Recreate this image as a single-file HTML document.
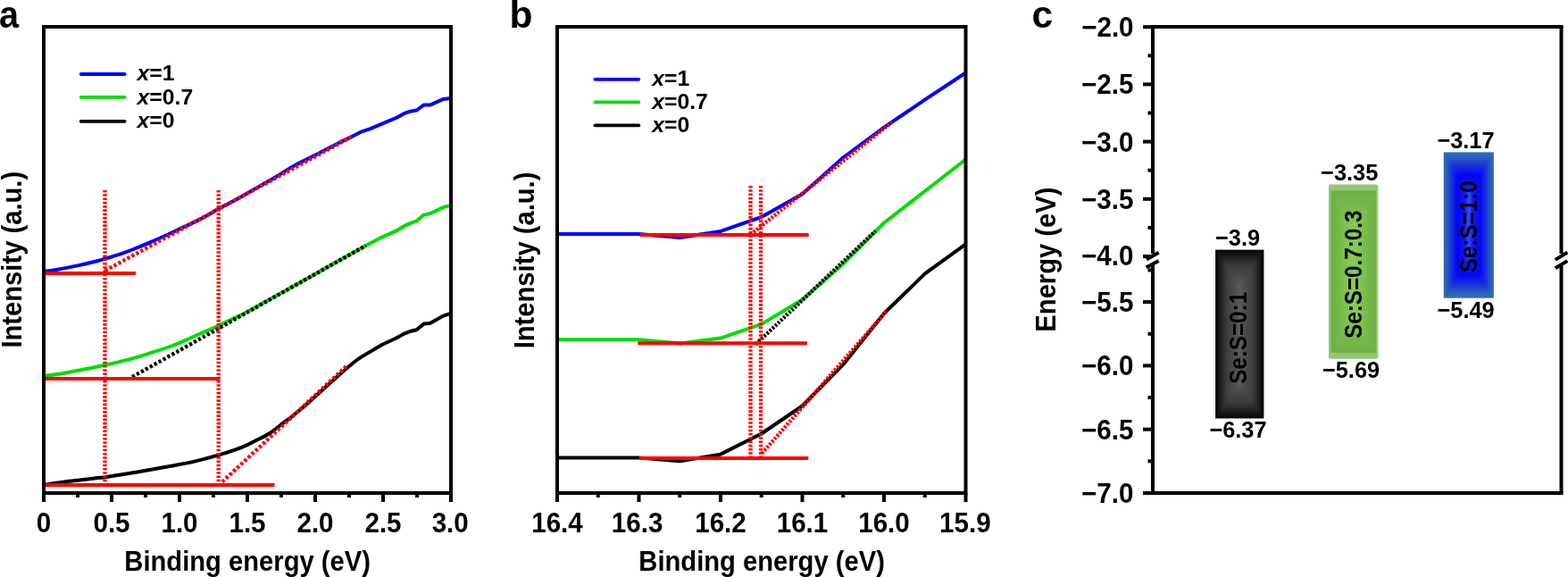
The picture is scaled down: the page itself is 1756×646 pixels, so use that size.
<!DOCTYPE html>
<html><head><meta charset="utf-8"><title>Figure</title>
<style>html,body{margin:0;padding:0;background:#fff;}body{width:1756px;height:646px;overflow:hidden;}svg{display:block;}text{dominant-baseline:alphabetic;}</style>
</head><body>
<svg width="1756" height="646" viewBox="0 0 1756 646" font-family='"Liberation Sans", Arial, Helvetica, sans-serif'>
<rect width="1756" height="646" fill="#fff"/>
<path d="M49.20,304.00 C51.98,303.58 59.63,302.60 65.90,301.50 C72.17,300.40 79.83,298.90 86.80,297.40 C93.77,295.90 102.58,293.78 107.70,292.50 C112.82,291.22 112.85,291.10 117.50,289.70 C122.15,288.30 130.27,285.88 135.60,284.10 C140.93,282.32 144.60,280.90 149.50,279.00 C154.40,277.10 158.48,275.50 165.00,272.70 C171.52,269.90 178.47,266.88 188.60,262.20 C198.73,257.52 216.52,249.30 225.80,244.60 C235.08,239.90 238.60,237.13 244.30,234.00 C250.00,230.87 253.52,229.33 260.00,225.80 C266.48,222.27 275.47,217.17 283.20,212.80 C290.93,208.43 298.67,204.13 306.40,199.60 C314.13,195.07 321.85,189.90 329.60,185.60 C337.35,181.30 345.15,177.78 352.90,173.80 C360.65,169.82 369.15,165.22 376.10,161.70 C383.05,158.18 389.77,155.10 394.60,152.70 L405.10,147.30 L414.10,144.30 L443.30,132.20 L452.40,127.20 L459.40,124.70 L466.50,123.50 L474.50,117.60 L481.50,117.60 L496.60,110.90 L504.70,110.10" fill="none" stroke="#0000ff" stroke-width="4" stroke-linejoin="round" stroke-linecap="butt"/>
<path d="M49.30,421.00 C51.17,420.77 56.05,420.27 60.50,419.60 C64.95,418.93 70.85,417.93 76.00,417.00 C81.15,416.07 86.25,415.00 91.40,414.00 C96.55,413.00 102.57,411.87 106.90,411.00 C111.23,410.13 113.53,409.65 117.40,408.80 C121.27,407.95 125.40,407.02 130.10,405.90 C134.80,404.78 139.78,403.70 145.60,402.10 C151.42,400.50 157.07,398.82 165.00,396.30 C172.93,393.78 184.23,390.38 193.20,387.00 C202.17,383.62 210.28,379.68 218.80,376.00 C227.32,372.32 237.43,368.03 244.30,364.90 C251.17,361.77 254.92,359.65 260.00,357.20 C265.08,354.75 268.22,353.63 274.80,350.20 C281.38,346.77 291.25,341.17 299.50,336.60 C307.75,332.03 316.03,327.42 324.30,322.80 C332.57,318.18 340.85,313.55 349.10,308.90 C357.35,304.25 363.63,300.58 373.80,294.90 C383.97,289.22 401.03,279.73 410.10,274.80 L428.20,265.30 L443.30,258.70 L452.40,253.20 L460.40,249.70 L466.50,247.70 L474.50,240.60 L481.50,239.30 L497.60,231.60 L504.70,230.10" fill="none" stroke="#00dd00" stroke-width="4" stroke-linejoin="round" stroke-linecap="butt"/>
<path d="M49.50,543.40 C50.17,543.20 49.98,542.82 53.50,542.20 C57.02,541.58 64.92,540.43 70.60,539.70 C76.28,538.97 81.93,538.47 87.60,537.80 C93.27,537.13 99.63,536.30 104.60,535.70 C109.57,535.10 113.13,534.78 117.40,534.20 C121.67,533.62 125.23,532.98 130.20,532.20 C135.17,531.42 141.40,530.45 147.20,529.50 C153.00,528.55 157.33,527.83 165.00,526.50 C172.67,525.17 184.23,523.18 193.20,521.50 C202.17,519.82 210.28,518.38 218.80,516.40 C227.32,514.42 236.90,511.72 244.30,509.60 C251.70,507.48 257.87,505.57 263.20,503.70 C268.53,501.83 271.92,500.38 276.30,498.40 C280.68,496.42 285.12,494.08 289.50,491.80 C293.88,489.52 298.22,487.55 302.60,484.70 C306.98,481.85 311.42,478.03 315.80,474.70 C320.18,471.37 324.52,468.20 328.90,464.70 C333.28,461.20 337.70,457.52 342.10,453.70 C346.50,449.88 350.92,445.75 355.30,441.80 C359.68,437.85 364.02,433.93 368.40,430.00 C372.78,426.07 377.22,422.03 381.60,418.20 C385.98,414.37 390.78,410.13 394.70,407.00 C398.62,403.87 399.52,402.93 405.10,399.40 L428.20,385.80 L443.30,378.70 L452.40,373.70 L460.40,370.70 L466.50,369.20 L474.50,362.60 L481.50,361.90 L496.60,353.60 L504.70,350.80" fill="none" stroke="#000000" stroke-width="4" stroke-linejoin="round" stroke-linecap="butt"/>
<line x1="117.6" y1="303" x2="394.6" y2="152.7" stroke="#ff0000" stroke-width="4.3" stroke-dasharray="3.3 2.35" stroke-linecap="butt"/>
<line x1="248.9" y1="539.5" x2="389.6" y2="408.4" stroke="#ff0000" stroke-width="4.3" stroke-dasharray="3.3 2.35" stroke-linecap="butt"/>
<line x1="148.1" y1="422" x2="409.7" y2="275" stroke="#000000" stroke-width="4.3" stroke-dasharray="3.3 2.35" stroke-linecap="butt"/>
<line x1="49" y1="306" x2="152" y2="306" stroke="#ff0000" stroke-width="4" stroke-linecap="butt"/>
<line x1="49" y1="424" x2="246" y2="424" stroke="#ff0000" stroke-width="4" stroke-linecap="butt"/>
<line x1="49" y1="543" x2="307.4" y2="543" stroke="#ff0000" stroke-width="4" stroke-linecap="butt"/>
<line x1="117.5" y1="213" x2="117.5" y2="541" stroke="#ff0000" stroke-width="4.3" stroke-dasharray="2.6 1.66" stroke-linecap="butt"/>
<line x1="244.7" y1="213" x2="244.7" y2="541" stroke="#ff0000" stroke-width="4.3" stroke-dasharray="2.6 1.66" stroke-linecap="butt"/>
<rect x="49" y="30" width="456" height="522" fill="none" stroke="#000" stroke-width="4"/>
<line x1="49" y1="552" x2="49" y2="562" stroke="#000000" stroke-width="4" stroke-linecap="butt"/>
<line x1="125" y1="552" x2="125" y2="562" stroke="#000000" stroke-width="4" stroke-linecap="butt"/>
<line x1="201" y1="552" x2="201" y2="562" stroke="#000000" stroke-width="4" stroke-linecap="butt"/>
<line x1="277" y1="552" x2="277" y2="562" stroke="#000000" stroke-width="4" stroke-linecap="butt"/>
<line x1="353" y1="552" x2="353" y2="562" stroke="#000000" stroke-width="4" stroke-linecap="butt"/>
<line x1="429" y1="552" x2="429" y2="562" stroke="#000000" stroke-width="4" stroke-linecap="butt"/>
<line x1="505" y1="552" x2="505" y2="562" stroke="#000000" stroke-width="4" stroke-linecap="butt"/>
<line x1="87" y1="552" x2="87" y2="557" stroke="#000000" stroke-width="4" stroke-linecap="butt"/>
<line x1="163" y1="552" x2="163" y2="557" stroke="#000000" stroke-width="4" stroke-linecap="butt"/>
<line x1="239" y1="552" x2="239" y2="557" stroke="#000000" stroke-width="4" stroke-linecap="butt"/>
<line x1="315" y1="552" x2="315" y2="557" stroke="#000000" stroke-width="4" stroke-linecap="butt"/>
<line x1="391" y1="552" x2="391" y2="557" stroke="#000000" stroke-width="4" stroke-linecap="butt"/>
<line x1="467" y1="552" x2="467" y2="557" stroke="#000000" stroke-width="4" stroke-linecap="butt"/>
<line x1="90.7" y1="83" x2="139.7" y2="83" stroke="#0000ff" stroke-width="3.8" stroke-linecap="round"/>
<line x1="90.7" y1="108.9" x2="139.7" y2="108.9" stroke="#00dd00" stroke-width="3.8" stroke-linecap="round"/>
<line x1="90.7" y1="135.8" x2="139.7" y2="135.8" stroke="#000000" stroke-width="3.8" stroke-linecap="round"/>
<polyline points="624.0,261.9 669.8,261.9 715.5,261.9 761.2,266.0 807.0,258.9 852.8,243.0 898.5,217.3 944.2,176.5 990.0,142.7 1035.8,111.7 1081.5,81.5" fill="none" stroke="#0000ff" stroke-width="4" stroke-linejoin="round" stroke-linecap="butt"/>
<polyline points="624.0,380.3 669.8,380.3 715.5,380.3 761.2,384.6 807.0,378.6 852.8,362.9 898.5,335.5 944.2,295.5 990.0,249.5 1035.8,214.0 1081.5,178.5" fill="none" stroke="#00dd00" stroke-width="4" stroke-linejoin="round" stroke-linecap="butt"/>
<polyline points="624.0,512.5 669.8,512.5 715.5,512.5 761.2,516.3 807.0,508.6 852.8,485.5 898.5,454.5 944.2,408.2 990.0,351.0 1035.8,306.4 1081.5,273.3" fill="none" stroke="#000000" stroke-width="4" stroke-linejoin="round" stroke-linecap="butt"/>
<line x1="843.8" y1="260" x2="998.8" y2="136.9" stroke="#ff0000" stroke-width="4.3" stroke-dasharray="2.6 1.66" stroke-linecap="butt"/>
<line x1="853.2" y1="507.7" x2="994" y2="347" stroke="#ff0000" stroke-width="4.3" stroke-dasharray="2.6 1.66" stroke-linecap="butt"/>
<line x1="846.4" y1="385.4" x2="980.4" y2="258.7" stroke="#000000" stroke-width="4.3" stroke-dasharray="2.6 1.66" stroke-linecap="butt"/>
<line x1="716.5" y1="263.1" x2="905.7" y2="263.1" stroke="#ff0000" stroke-width="4" stroke-linecap="butt"/>
<line x1="714.3" y1="384.2" x2="904" y2="384.2" stroke="#ff0000" stroke-width="4" stroke-linecap="butt"/>
<line x1="715.7" y1="512.9" x2="905.3" y2="512.9" stroke="#ff0000" stroke-width="4" stroke-linecap="butt"/>
<line x1="840.5" y1="208" x2="840.5" y2="511" stroke="#ff0000" stroke-width="4.3" stroke-dasharray="2.6 1.66" stroke-linecap="butt"/>
<line x1="852" y1="208" x2="852" y2="511" stroke="#ff0000" stroke-width="4.3" stroke-dasharray="2.6 1.66" stroke-linecap="butt"/>
<rect x="624" y="30" width="457.5" height="522" fill="none" stroke="#000" stroke-width="4"/>
<line x1="624.0" y1="552" x2="624.0" y2="562" stroke="#000000" stroke-width="4" stroke-linecap="butt"/>
<line x1="715.5" y1="552" x2="715.5" y2="562" stroke="#000000" stroke-width="4" stroke-linecap="butt"/>
<line x1="807.0" y1="552" x2="807.0" y2="562" stroke="#000000" stroke-width="4" stroke-linecap="butt"/>
<line x1="898.5" y1="552" x2="898.5" y2="562" stroke="#000000" stroke-width="4" stroke-linecap="butt"/>
<line x1="990.0" y1="552" x2="990.0" y2="562" stroke="#000000" stroke-width="4" stroke-linecap="butt"/>
<line x1="1081.5" y1="552" x2="1081.5" y2="562" stroke="#000000" stroke-width="4" stroke-linecap="butt"/>
<line x1="669.75" y1="552" x2="669.75" y2="557" stroke="#000000" stroke-width="4" stroke-linecap="butt"/>
<line x1="761.25" y1="552" x2="761.25" y2="557" stroke="#000000" stroke-width="4" stroke-linecap="butt"/>
<line x1="852.75" y1="552" x2="852.75" y2="557" stroke="#000000" stroke-width="4" stroke-linecap="butt"/>
<line x1="944.25" y1="552" x2="944.25" y2="557" stroke="#000000" stroke-width="4" stroke-linecap="butt"/>
<line x1="1035.75" y1="552" x2="1035.75" y2="557" stroke="#000000" stroke-width="4" stroke-linecap="butt"/>
<line x1="666.5" y1="88.8" x2="715.3" y2="88.8" stroke="#0000ff" stroke-width="3.8" stroke-linecap="round"/>
<line x1="666.5" y1="114.4" x2="715.3" y2="114.4" stroke="#00dd00" stroke-width="3.8" stroke-linecap="round"/>
<line x1="666.5" y1="140.4" x2="715.3" y2="140.4" stroke="#000000" stroke-width="3.8" stroke-linecap="round"/>
<line x1="1289" y1="30" x2="1750.5" y2="30" stroke="#000000" stroke-width="4" stroke-linecap="butt"/>
<line x1="1289" y1="552" x2="1750.5" y2="552" stroke="#000000" stroke-width="4" stroke-linecap="butt"/>
<line x1="1291" y1="30" x2="1291" y2="284" stroke="#000000" stroke-width="4" stroke-linecap="butt"/>
<line x1="1291" y1="297" x2="1291" y2="552" stroke="#000000" stroke-width="4" stroke-linecap="butt"/>
<line x1="1748.5" y1="30" x2="1748.5" y2="284" stroke="#000000" stroke-width="4" stroke-linecap="butt"/>
<line x1="1748.5" y1="298" x2="1748.5" y2="552" stroke="#000000" stroke-width="4" stroke-linecap="butt"/>
<line x1="1284" y1="290.6" x2="1297.6" y2="282.7" stroke="#000000" stroke-width="4" stroke-linecap="butt"/>
<line x1="1283.7" y1="299.5" x2="1297.6" y2="292" stroke="#000000" stroke-width="4" stroke-linecap="butt"/>
<line x1="1741.8" y1="290.9" x2="1755.4" y2="282.5" stroke="#000000" stroke-width="4" stroke-linecap="butt"/>
<line x1="1741.8" y1="300.2" x2="1755.4" y2="292.1" stroke="#000000" stroke-width="4" stroke-linecap="butt"/>
<line x1="1280" y1="30.2" x2="1291" y2="30.2" stroke="#000000" stroke-width="4" stroke-linecap="butt"/>
<line x1="1280" y1="94.4" x2="1291" y2="94.4" stroke="#000000" stroke-width="4" stroke-linecap="butt"/>
<line x1="1280" y1="158.6" x2="1291" y2="158.6" stroke="#000000" stroke-width="4" stroke-linecap="butt"/>
<line x1="1280" y1="222.8" x2="1291" y2="222.8" stroke="#000000" stroke-width="4" stroke-linecap="butt"/>
<line x1="1280" y1="287.0" x2="1291" y2="287.0" stroke="#000000" stroke-width="4" stroke-linecap="butt"/>
<line x1="1285.5" y1="62.3" x2="1291" y2="62.3" stroke="#000000" stroke-width="4" stroke-linecap="butt"/>
<line x1="1285.5" y1="126.50000000000001" x2="1291" y2="126.50000000000001" stroke="#000000" stroke-width="4" stroke-linecap="butt"/>
<line x1="1285.5" y1="190.7" x2="1291" y2="190.7" stroke="#000000" stroke-width="4" stroke-linecap="butt"/>
<line x1="1285.5" y1="254.9" x2="1291" y2="254.9" stroke="#000000" stroke-width="4" stroke-linecap="butt"/>
<line x1="1280" y1="338.1" x2="1291" y2="338.1" stroke="#000000" stroke-width="4" stroke-linecap="butt"/>
<line x1="1280" y1="409.4" x2="1291" y2="409.4" stroke="#000000" stroke-width="4" stroke-linecap="butt"/>
<line x1="1280" y1="480.7" x2="1291" y2="480.7" stroke="#000000" stroke-width="4" stroke-linecap="butt"/>
<line x1="1280" y1="552.0" x2="1291" y2="552.0" stroke="#000000" stroke-width="4" stroke-linecap="butt"/>
<line x1="1285.5" y1="302.45000000000005" x2="1291" y2="302.45000000000005" stroke="#000000" stroke-width="4" stroke-linecap="butt"/>
<line x1="1285.5" y1="373.75" x2="1291" y2="373.75" stroke="#000000" stroke-width="4" stroke-linecap="butt"/>
<line x1="1285.5" y1="445.05" x2="1291" y2="445.05" stroke="#000000" stroke-width="4" stroke-linecap="butt"/>
<line x1="1285.5" y1="516.35" x2="1291" y2="516.35" stroke="#000000" stroke-width="4" stroke-linecap="butt"/>
<rect x="1361.10" y="279.60" width="54.30" height="188.90" fill="rgb(10, 10, 10)" rx="0.0"/>
<rect x="1363.04" y="282.51" width="50.42" height="183.08" fill="rgb(18, 18, 18)" rx="2.2"/>
<rect x="1364.98" y="285.42" width="46.54" height="177.26" fill="rgb(27, 27, 27)" rx="2.9"/>
<rect x="1366.92" y="288.33" width="42.66" height="171.45" fill="rgb(37, 37, 37)" rx="3.5"/>
<rect x="1368.86" y="291.24" width="38.79" height="165.63" fill="rgb(46, 46, 46)" rx="4.2"/>
<rect x="1370.80" y="294.14" width="34.91" height="159.81" fill="rgb(53, 53, 53)" rx="4.9"/>
<rect x="1372.74" y="297.05" width="31.03" height="153.99" fill="rgb(60, 60, 60)" rx="5.0"/>
<rect x="1374.67" y="299.96" width="27.15" height="148.17" fill="rgb(64, 64, 64)" rx="5.0"/>
<rect x="1376.61" y="302.87" width="23.27" height="142.36" fill="rgb(68, 68, 68)" rx="5.0"/>
<rect x="1378.55" y="305.78" width="19.39" height="136.54" fill="rgb(72, 72, 72)" rx="5.0"/>
<rect x="1380.49" y="308.69" width="15.51" height="130.72" fill="rgb(76, 76, 76)" rx="5.0"/>
<rect x="1382.43" y="311.60" width="11.64" height="124.90" fill="rgb(80, 80, 80)" rx="5.0"/>
<rect x="1384.37" y="314.51" width="7.76" height="119.09" fill="rgb(84, 84, 84)" rx="5.0"/>
<rect x="1386.31" y="317.42" width="3.88" height="113.27" fill="rgb(88, 88, 88)" rx="5.0"/>
<rect x="1488" y="206.4" width="55.4" height="195.4" fill="rgb(146,199,117)" rx="2.5"/>
<rect x="1490.50" y="213.40" width="50.40" height="181.40" fill="rgb(112, 175, 70)" rx="0.0"/>
<rect x="1493.02" y="217.94" width="45.36" height="172.33" fill="rgb(114, 178, 71)" rx="3.5"/>
<rect x="1495.54" y="222.47" width="40.32" height="163.26" fill="rgb(116, 182, 71)" rx="4.0"/>
<rect x="1498.06" y="227.01" width="35.28" height="154.18" fill="rgb(118, 185, 72)" rx="4.5"/>
<rect x="1500.58" y="231.54" width="30.24" height="145.11" fill="rgb(121, 188, 74)" rx="5.0"/>
<rect x="1503.10" y="236.08" width="25.20" height="136.04" fill="rgb(124, 192, 76)" rx="5.0"/>
<rect x="1505.62" y="240.62" width="20.16" height="126.97" fill="rgb(127, 195, 78)" rx="5.0"/>
<rect x="1508.14" y="245.15" width="15.12" height="117.90" fill="rgb(130, 198, 80)" rx="5.0"/>
<rect x="1510.66" y="249.69" width="10.08" height="108.82" fill="rgb(133, 201, 82)" rx="5.0"/>
<rect x="1513.18" y="254.22" width="5.04" height="99.75" fill="rgb(137, 203, 84)" rx="5.0"/>
<rect x="1616.80" y="170.40" width="56.10" height="163.30" fill="rgb(46, 108, 178)" rx="0.0"/>
<rect x="1618.55" y="173.38" width="52.59" height="157.34" fill="rgb(43, 99, 185)" rx="2.1"/>
<rect x="1620.31" y="176.36" width="49.09" height="151.38" fill="rgb(40, 89, 193)" rx="2.7"/>
<rect x="1622.06" y="179.34" width="45.58" height="145.42" fill="rgb(34, 73, 203)" rx="3.3"/>
<rect x="1623.81" y="182.32" width="42.08" height="139.46" fill="rgb(29, 57, 214)" rx="4.0"/>
<rect x="1625.57" y="185.30" width="38.57" height="133.50" fill="rgb(24, 43, 224)" rx="4.6"/>
<rect x="1627.32" y="188.28" width="35.06" height="127.54" fill="rgb(17, 30, 232)" rx="5.0"/>
<rect x="1629.07" y="191.26" width="31.56" height="121.58" fill="rgb(11, 18, 240)" rx="5.0"/>
<rect x="1630.83" y="194.24" width="28.05" height="115.61" fill="rgb(4, 6, 248)" rx="5.0"/>
<rect x="1632.58" y="197.22" width="24.54" height="109.65" fill="rgb(6, 9, 249)" rx="5.0"/>
<rect x="1634.33" y="200.20" width="21.04" height="103.69" fill="rgb(7, 13, 251)" rx="5.0"/>
<rect x="1636.08" y="203.18" width="17.53" height="97.73" fill="rgb(9, 16, 252)" rx="5.0"/>
<rect x="1637.84" y="206.16" width="14.03" height="91.77" fill="rgb(11, 19, 254)" rx="5.0"/>
<rect x="1639.59" y="209.14" width="10.52" height="85.81" fill="rgb(15, 27, 255)" rx="5.0"/>
<rect x="1641.34" y="212.12" width="7.01" height="79.85" fill="rgb(30, 49, 255)" rx="5.0"/>
<rect x="1643.10" y="215.10" width="3.51" height="73.89" fill="rgb(45, 72, 255)" rx="5.0"/>
<text transform="translate(-1.00 31.00) scale(0.9300 1)" font-size="42.60" font-weight="bold" text-anchor="start">a</text>
<text transform="translate(570.47 31.00) scale(1.0200 1)" font-size="41.80" font-weight="bold" text-anchor="start">b</text>
<text transform="translate(1155.60 31.34) scale(1.0200 1)" font-size="41.80" font-weight="bold" text-anchor="start">c</text>
<text transform="translate(49.00 595.72) scale(0.9550 1)" font-size="31.00" font-weight="bold" text-anchor="middle">0</text>
<text transform="translate(125.00 595.72) scale(0.9550 1)" font-size="31.00" font-weight="bold" text-anchor="middle">0.5</text>
<text transform="translate(201.00 595.72) scale(0.9550 1)" font-size="31.00" font-weight="bold" text-anchor="middle">1.0</text>
<text transform="translate(277.00 595.72) scale(0.9550 1)" font-size="31.00" font-weight="bold" text-anchor="middle">1.5</text>
<text transform="translate(353.00 595.72) scale(0.9550 1)" font-size="31.00" font-weight="bold" text-anchor="middle">2.0</text>
<text transform="translate(429.00 595.72) scale(0.9550 1)" font-size="31.00" font-weight="bold" text-anchor="middle">2.5</text>
<text transform="translate(504.22 595.72) scale(0.9550 1)" font-size="31.00" font-weight="bold" text-anchor="middle">3.0</text>
<text transform="translate(624.00 595.77) scale(0.9550 1)" font-size="31.00" font-weight="bold" text-anchor="middle">16.4</text>
<text transform="translate(713.64 595.94) scale(0.9550 1)" font-size="31.00" font-weight="bold" text-anchor="middle">16.3</text>
<text transform="translate(807.00 595.77) scale(0.9550 1)" font-size="31.00" font-weight="bold" text-anchor="middle">16.2</text>
<text transform="translate(898.50 595.77) scale(0.9550 1)" font-size="31.00" font-weight="bold" text-anchor="middle">16.1</text>
<text transform="translate(990.00 595.77) scale(0.9550 1)" font-size="31.00" font-weight="bold" text-anchor="middle">16.0</text>
<text transform="translate(1080.88 595.60) scale(0.9550 1)" font-size="31.00" font-weight="bold" text-anchor="middle">15.9</text>
<text transform="translate(1269.57 41.36) scale(0.9550 1)" font-size="31.00" font-weight="bold" text-anchor="end">&#8722;2.0</text>
<text transform="translate(1269.47 105.33) scale(0.9550 1)" font-size="31.00" font-weight="bold" text-anchor="end">&#8722;2.5</text>
<text transform="translate(1269.47 169.53) scale(0.9550 1)" font-size="31.00" font-weight="bold" text-anchor="end">&#8722;3.0</text>
<text transform="translate(1269.47 233.73) scale(0.9550 1)" font-size="31.00" font-weight="bold" text-anchor="end">&#8722;3.5</text>
<text transform="translate(1269.40 297.26) scale(0.9550 1)" font-size="31.00" font-weight="bold" text-anchor="end">&#8722;4.0</text>
<text transform="translate(1269.45 349.48) scale(0.9550 1)" font-size="31.00" font-weight="bold" text-anchor="end">&#8722;5.5</text>
<text transform="translate(1269.47 420.33) scale(0.9550 1)" font-size="31.00" font-weight="bold" text-anchor="end">&#8722;6.0</text>
<text transform="translate(1269.47 491.63) scale(0.9550 1)" font-size="31.00" font-weight="bold" text-anchor="end">&#8722;6.5</text>
<text transform="translate(1269.47 562.93) scale(0.9550 1)" font-size="31.00" font-weight="bold" text-anchor="end">&#8722;7.0</text>
<text transform="translate(277.17 638.66) scale(0.9510 1)" font-size="30.70" font-weight="bold" text-anchor="middle">Binding energy (eV)</text>
<text transform="translate(853.11 638.88) scale(0.9510 1)" font-size="30.70" font-weight="bold" text-anchor="middle">Binding energy (eV)</text>
<text transform="translate(23.92 290.72) rotate(-90) scale(0.9510 1)" font-size="30.70" font-weight="bold" text-anchor="middle">Intensity (a.u.)</text>
<text transform="translate(598.10 291.45) rotate(-90) scale(0.9510 1)" font-size="30.70" font-weight="bold" text-anchor="middle">Intensity (a.u.)</text>
<text transform="translate(1182.10 290.58) rotate(-90) scale(0.9510 1)" font-size="30.70" font-weight="bold" text-anchor="middle">Energy (eV)</text>
<text transform="translate(153.60 90.40) scale(1.0300 1)" font-size="24.00" font-weight="bold" text-anchor="start"><tspan font-style="italic">x</tspan>=1</text>
<text transform="translate(153.60 116.50) scale(1.0300 1)" font-size="24.00" font-weight="bold" text-anchor="start"><tspan font-style="italic">x</tspan>=0.7</text>
<text transform="translate(153.60 142.60) scale(1.0300 1)" font-size="24.00" font-weight="bold" text-anchor="start"><tspan font-style="italic">x</tspan>=0</text>
<text transform="translate(730.20 95.50) scale(1.0300 1)" font-size="24.00" font-weight="bold" text-anchor="start"><tspan font-style="italic">x</tspan>=1</text>
<text transform="translate(730.20 121.50) scale(1.0300 1)" font-size="24.00" font-weight="bold" text-anchor="start"><tspan font-style="italic">x</tspan>=0.7</text>
<text transform="translate(730.20 147.60) scale(1.0300 1)" font-size="24.00" font-weight="bold" text-anchor="start"><tspan font-style="italic">x</tspan>=0</text>
<text transform="translate(1386.00 274.80) scale(0.9650 1)" font-size="26.30" font-weight="bold" text-anchor="middle">&#8722;3.9</text>
<text transform="translate(1386.46 490.10) scale(0.9650 1)" font-size="26.30" font-weight="bold" text-anchor="middle">&#8722;6.37</text>
<text transform="translate(1511.17 201.88) scale(0.9650 1)" font-size="26.30" font-weight="bold" text-anchor="middle">&#8722;3.35</text>
<text transform="translate(1513.04 422.94) scale(0.9650 1)" font-size="26.30" font-weight="bold" text-anchor="middle">&#8722;5.69</text>
<text transform="translate(1641.46 166.14) scale(0.9650 1)" font-size="26.30" font-weight="bold" text-anchor="middle">&#8722;3.17</text>
<text transform="translate(1641.55 355.82) scale(0.9650 1)" font-size="26.30" font-weight="bold" text-anchor="middle">&#8722;5.49</text>
<text transform="translate(1396.39 378.37) rotate(-90) scale(0.8500 1)" font-size="28.50" font-weight="bold" text-anchor="middle">Se:S=0:1</text>
<text transform="translate(1525.14 307.25) rotate(-90) scale(0.8500 1)" font-size="28.50" font-weight="bold" text-anchor="middle">Se:S=0.7:0.3</text>
<text transform="translate(1653.64 253.79) rotate(-90) scale(0.8500 1)" font-size="28.50" font-weight="bold" text-anchor="middle">Se:S=1:0</text>
</svg>
</body></html>
